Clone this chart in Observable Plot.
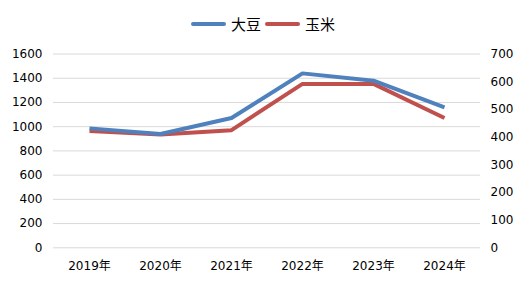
<!DOCTYPE html>
<html><head><meta charset="utf-8">
<script src="https://cdn.jsdelivr.net/npm/d3@7"></script>
<script src="https://cdn.jsdelivr.net/npm/@observablehq/plot@0.6"></script>
<style>
body{margin:0;background:#fff;}
#wrap{position:relative;width:526px;height:288px;font-family:"DejaVu Sans","Noto Sans CJK SC",sans-serif;}
#legend{position:absolute;top:13px;left:0;width:526px;display:flex;justify-content:center;align-items:center;font-family:"Noto Sans CJK SC",sans-serif;font-size:15px;color:#000;}
.item{display:flex;align-items:center;margin:0 2px;}
.sw{display:inline-block;width:35px;height:4px;border-radius:2px;margin-right:5px;}
</style></head>
<body><div id="wrap"><div id="legend"></div></div>
<script>
const years = ["2019年","2020年","2021年","2022年","2023年","2024年"];
const soybean = [986, 940, 1072, 1440, 1380, 1160];
const corn = [422, 409, 425, 592, 592, 469];
const leftTicks = [0,200,400,600,800,1000,1200,1400,1600];
const rightTicks = [0,100,200,300,400,500,600,700];
const seriesNames = ["大豆","玉米"];
const colors = ["#4F81BD","#C0504D"];

const k = 1600/700;
const soyData = years.map((y,i)=>({year:y, v:soybean[i]}));
const cornData = years.map((y,i)=>({year:y, v:corn[i]*k}));

const chart = Plot.plot({
  width: 526, height: 288,
  marginLeft: 53, marginRight: 46, marginTop: 53.5, marginBottom: 40.7,
  style: {fontFamily: '"DejaVu Sans","Noto Sans CJK SC",sans-serif', fontSize: "12px", color: "#000", background: "#fff"},
  x: {type: "point", domain: years, padding: 0.5, label: null},
  y: {domain: [0, 1600], label: null},
  marks: [
    Plot.gridY(leftTicks, {stroke: "#d9d9d9", strokeOpacity: 1, strokeWidth: 1}),
    Plot.axisY(leftTicks, {anchor: "left", tickSize: 0, tickPadding: 11, label: null, tickFormat: d => String(d), fill: "#000", fontSize: 12}),
    Plot.axisY(rightTicks.map(v=>v*k), {anchor: "right", tickSize: 0, tickPadding: 10, label: null, tickFormat: d => String(Math.round(d/k)), fill: "#000", fontSize: 12}),
    Plot.axisX(years, {anchor: "bottom", tickSize: 0, tickPadding: 14, label: null, fill: "#000", fontSize: 12}),
    Plot.line(cornData, {x: "year", y: "v", stroke: colors[1], strokeWidth: 4, strokeLinejoin: "round", strokeLinecap: "butt"}),
    Plot.line(soyData, {x: "year", y: "v", stroke: colors[0], strokeWidth: 4, strokeLinejoin: "round", strokeLinecap: "butt"})
  ]
});
document.getElementById("wrap").appendChild(chart);
const lg = document.getElementById("legend");
seriesNames.forEach((n,i)=>{
  const it = document.createElement("span"); it.className="item";
  it.innerHTML = `<span class="sw" style="background:${colors[i]}"></span><span>${n}</span>`;
  lg.appendChild(it);
});
</script></body></html>
